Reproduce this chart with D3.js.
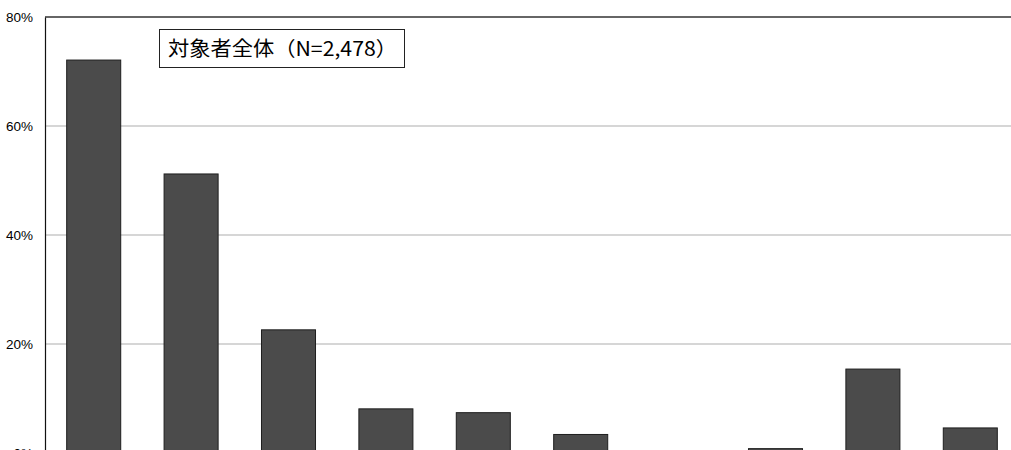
<!DOCTYPE html>
<html>
<head>
<meta charset="utf-8">
<script src="https://cdn.jsdelivr.net/npm/d3@7"></script>
<style>
  html, body { margin: 0; padding: 0; background: #fff; overflow: hidden; }
  svg { display: block; }
</style>
</head>
<body>
<svg id="chart" width="1011" height="450"></svg>
<script>
// Data
const categories = ["項目1", "項目2", "項目3", "項目4", "項目5", "項目6", "項目7", "項目8", "項目9", "項目10"];
const values = [72.1, 51.2, 22.6, 8.1, 7.4, 3.4, 0, 0.8, 15.4, 4.6];
const yTicks = [0, 20, 40, 60, 80];
const legendLabel = "対象者全体（N=2,478）";

const svg = d3.select("#chart");
const plotLeft = 45, plotRight = 1019, plotTop = 17, plotBottom = 453;

const x = d3.scaleBand().domain(categories).range([plotLeft, plotRight]).paddingInner(0.435).paddingOuter(0.2175);
const y = d3.scaleLinear().domain([0, 80]).range([plotBottom, plotTop]);

// gridlines
svg.append("g").selectAll("line").data(yTicks.filter(t => t > 0 && t < 80)).join("line")
  .attr("x1", plotLeft).attr("x2", plotRight)
  .attr("y1", d => y(d)).attr("y2", d => y(d))
  .attr("stroke", "#c8c8c8").attr("stroke-width", 1.5);

// top border
svg.append("line").attr("x1", plotLeft).attr("x2", plotRight)
  .attr("y1", y(80)).attr("y2", y(80))
  .attr("stroke", "#666").attr("stroke-width", 2);

// bars
svg.append("g").selectAll("rect").data(categories.map((c, i) => ({c, v: values[i]}))).join("rect")
  .filter(d => d.v > 0)
  .attr("x", d => x(d.c) + 0.5)
  .attr("width", x.bandwidth() - 1)
  .attr("y", d => y(d.v))
  .attr("height", d => y(0) - y(d.v))
  .attr("fill", "#4b4b4b")
  .attr("stroke", "#1e1e1e").attr("stroke-width", 1);

// y axis
const yAxis = d3.axisLeft(y).tickValues(yTicks).tickSize(0).tickFormat(d => d + "%");
const ya = svg.append("g").attr("transform", `translate(${plotLeft},0)`).call(yAxis);
ya.select(".domain").attr("stroke", "#111").attr("stroke-width", 1.2);
ya.selectAll("text").attr("x", -12).attr("font-family", "Liberation Sans Narrow, Liberation Sans, Arial, sans-serif")
  .attr("font-size", 13.5).attr("fill", "#000");

// legend box
const lg = svg.append("g");
lg.append("rect").attr("x", 159.5).attr("y", 29.5).attr("width", 245).attr("height", 38)
  .attr("fill", "#fff").attr("stroke", "#222").attr("stroke-width", 1);
lg.append("text").attr("x", 168).attr("y", 56)
  .attr("font-family", "Noto Sans CJK JP, sans-serif").attr("font-size", 20)
  .attr("textLength", 229).attr("lengthAdjust", "spacingAndGlyphs")
  .attr("fill", "#000").text(legendLabel);
</script>
</body>
</html>
